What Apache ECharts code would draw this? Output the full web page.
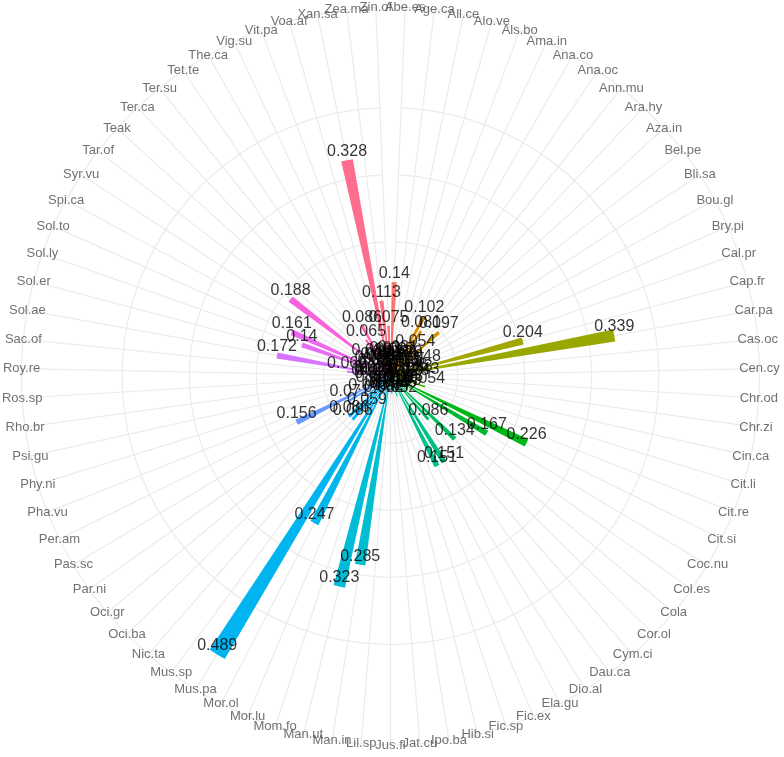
<!DOCTYPE html>
<html>
<head>
<meta charset="utf-8">
<script src="https://cdn.jsdelivr.net/npm/echarts@6/dist/echarts.min.js"></script>
<style>
  html, body { margin: 0; padding: 0; background: #ffffff; }
  #chart { width: 784px; height: 757px; }
</style>
</head>
<body>
<div id="chart"></div>
<script>
// ---- data ----
const categories = [
  "Abe.es","Age.ca","All.ce","Alo.ve","Als.bo","Ama.in","Ana.co","Ana.oc","Ann.mu","Ara.hy",
  "Aza.in","Bel.pe","Bli.sa","Bou.gl","Bry.pi","Cal.pr","Cap.fr","Car.pa","Cas.oc","Cen.cy",
  "Chr.od","Chr.zi","Cin.ca","Cit.li","Cit.re","Cit.si","Coc.nu","Col.es","Cola","Cor.ol",
  "Cym.ci","Dau.ca","Dio.al","Ela.gu","Fic.ex","Fic.sp","Hib.si","Ipo.ba","Jat.cu","Jus.fl",
  "Lil.sp","Man.in","Man.ut","Mom.fo","Mor.lu","Mor.ol","Mus.pa","Mus.sp","Nic.ta","Oci.ba",
  "Oci.gr","Par.ni","Pas.sc","Per.am","Pha.vu","Phy.ni","Psi.gu","Rho.br","Ros.sp","Roy.re",
  "Sac.of","Sol.ae","Sol.er","Sol.ly","Sol.to","Spi.ca","Syr.vu","Tar.of","Teak","Ter.ca",
  "Ter.su","Tet.te","The.ca","Vig.su","Vit.pa","Voa.af","Xan.sa","Zea.ma","Zin.of"
];
const values = [
  0.14, 0.022, 0.018, 0.027, 0.031, 0.024, 0.102, 0.081, 0.029, 0.054,
  0.097, 0.021, 0.016, 0.025, 0.019, 0.048, 0.204, 0.339, 0.026, 0.033,
  0.043, 0.028, 0.02, 0.054, 0.017, 0.226, 0.167, 0.023, 0.03, 0.134,
  0.086, 0.019, 0.151, 0.151, 0.025, 0.032, 0.015, 0.021, 0.027, 0.018,
  0.024, 0.285, 0.323, 0.032, 0.022, 0.247, 0.489, 0.059, 0.086, 0.086,
  0.043, 0.027, 0.071, 0.156, 0.026, 0.018, 0.023, 0.029, 0.02, 0.025,
  0.065, 0.172, 0.019, 0.14, 0.161, 0.022, 0.028, 0.188, 0.038, 0.017,
  0.024, 0.065, 0.086, 0.021, 0.019, 0.03, 0.328, 0.113, 0.075
];
const radiusTicks = [0, 0.1, 0.2, 0.3, 0.4];

// ---- styling helpers ----
function hclToHex(h, c, l) {
  const hr = h * Math.PI / 180;
  const U = c * Math.cos(hr), V = c * Math.sin(hr);
  const Xn = 95.047, Yn = 100.0, Zn = 108.883;
  const den = Xn + 15 * Yn + 3 * Zn;
  const un = 4 * Xn / den, vn = 9 * Yn / den;
  const Y = l > 8 ? Yn * Math.pow((l + 16) / 116, 3) : Yn * l / 903.3;
  const u = U / (13 * l) + un, v = V / (13 * l) + vn;
  const X = Y * 9 * u / (4 * v);
  const Z = Y * (12 - 3 * u - 20 * v) / (4 * v);
  const x = X / 100, y = Y / 100, z = Z / 100;
  let rgb = [
    3.240479 * x - 1.537150 * y - 0.498535 * z,
   -0.969256 * x + 1.875992 * y + 0.041556 * z,
    0.055648 * x - 0.204043 * y + 1.057311 * z
  ];
  rgb = rgb.map(t => {
    t = t <= 0.0031308 ? 12.92 * t : 1.055 * Math.pow(t, 1 / 2.4) - 0.055;
    t = Math.max(0, Math.min(1, t));
    return Math.round(t * 255).toString(16).padStart(2, '0');
  });
  return '#' + rgb.join('');
}
const n = categories.length;
const colors = categories.map((c, i) => hclToHex(15 + i * 360 / n, 100, 65));

const RMAX = Math.max(...values) * 0.45 / 0.4;   // ggplot: data max at 0.4, outer ring at 0.45
const gridColor = '#EBEBEB';
const splitColors = [];
for (let k = 0; k <= 6; k++) splitColors.push(k < radiusTicks.length ? gridColor : 'rgba(0,0,0,0)');

const chart = echarts.init(document.getElementById('chart'), null, { renderer: 'canvas' });
chart.setOption({
  animation: false,
  backgroundColor: '#ffffff',
  polar: { center: [390.5, 376], radius: 369 },
  angleAxis: {
    type: 'category',
    data: categories,
    boundaryGap: false,
    startAngle: 90 - 180 / n,
    clockwise: true,
    axisLine: { show: true, lineStyle: { color: gridColor, width: 1.2 } },
    axisTick: { show: false, interval: 0 },
    axisLabel: { show: false, interval: 0 },
    splitLine: { show: true, interval: 0, lineStyle: { color: gridColor, width: 1.2 } }
  },
  radiusAxis: {
    type: 'value',
    min: 0,
    max: RMAX,
    interval: 0.1,
    axisLine: { show: false },
    axisTick: { show: false },
    axisLabel: { show: false },
    splitLine: { show: true, lineStyle: { color: splitColors, width: 1.2 } }
  },
  series: [
    {
      type: 'bar',
      coordinateSystem: 'polar',
      barWidth: '68%',
      data: values.map((v, i) => ({ value: v, itemStyle: { color: colors[i] } })),
      z: 2
    },
    {
      type: 'scatter',
      coordinateSystem: 'polar',
      symbolSize: 1,
      itemStyle: { color: 'rgba(0,0,0,0)' },
      data: values.map((v, i) => [v, categories[i]]),
      label: {
        show: true,
        position: 'top',
        distance: 0,
        formatter: p => String(values[p.dataIndex]),
        color: '#000000',
        fontSize: 16,
        fontFamily: 'Liberation Sans, Arial, sans-serif'
      },
      z: 4
    },
    {
      type: 'scatter',
      coordinateSystem: 'polar',
      symbolSize: 1,
      itemStyle: { color: 'rgba(0,0,0,0)' },
      data: categories.map(c => [RMAX, c]),
      label: {
        show: true,
        position: 'inside',
        formatter: p => categories[p.dataIndex],
        color: '#4D4D4D',
        fontSize: 13,
        fontFamily: 'Liberation Sans, Arial, sans-serif'
      },
      z: 5
    }
  ]
});
</script>
</body>
</html>
